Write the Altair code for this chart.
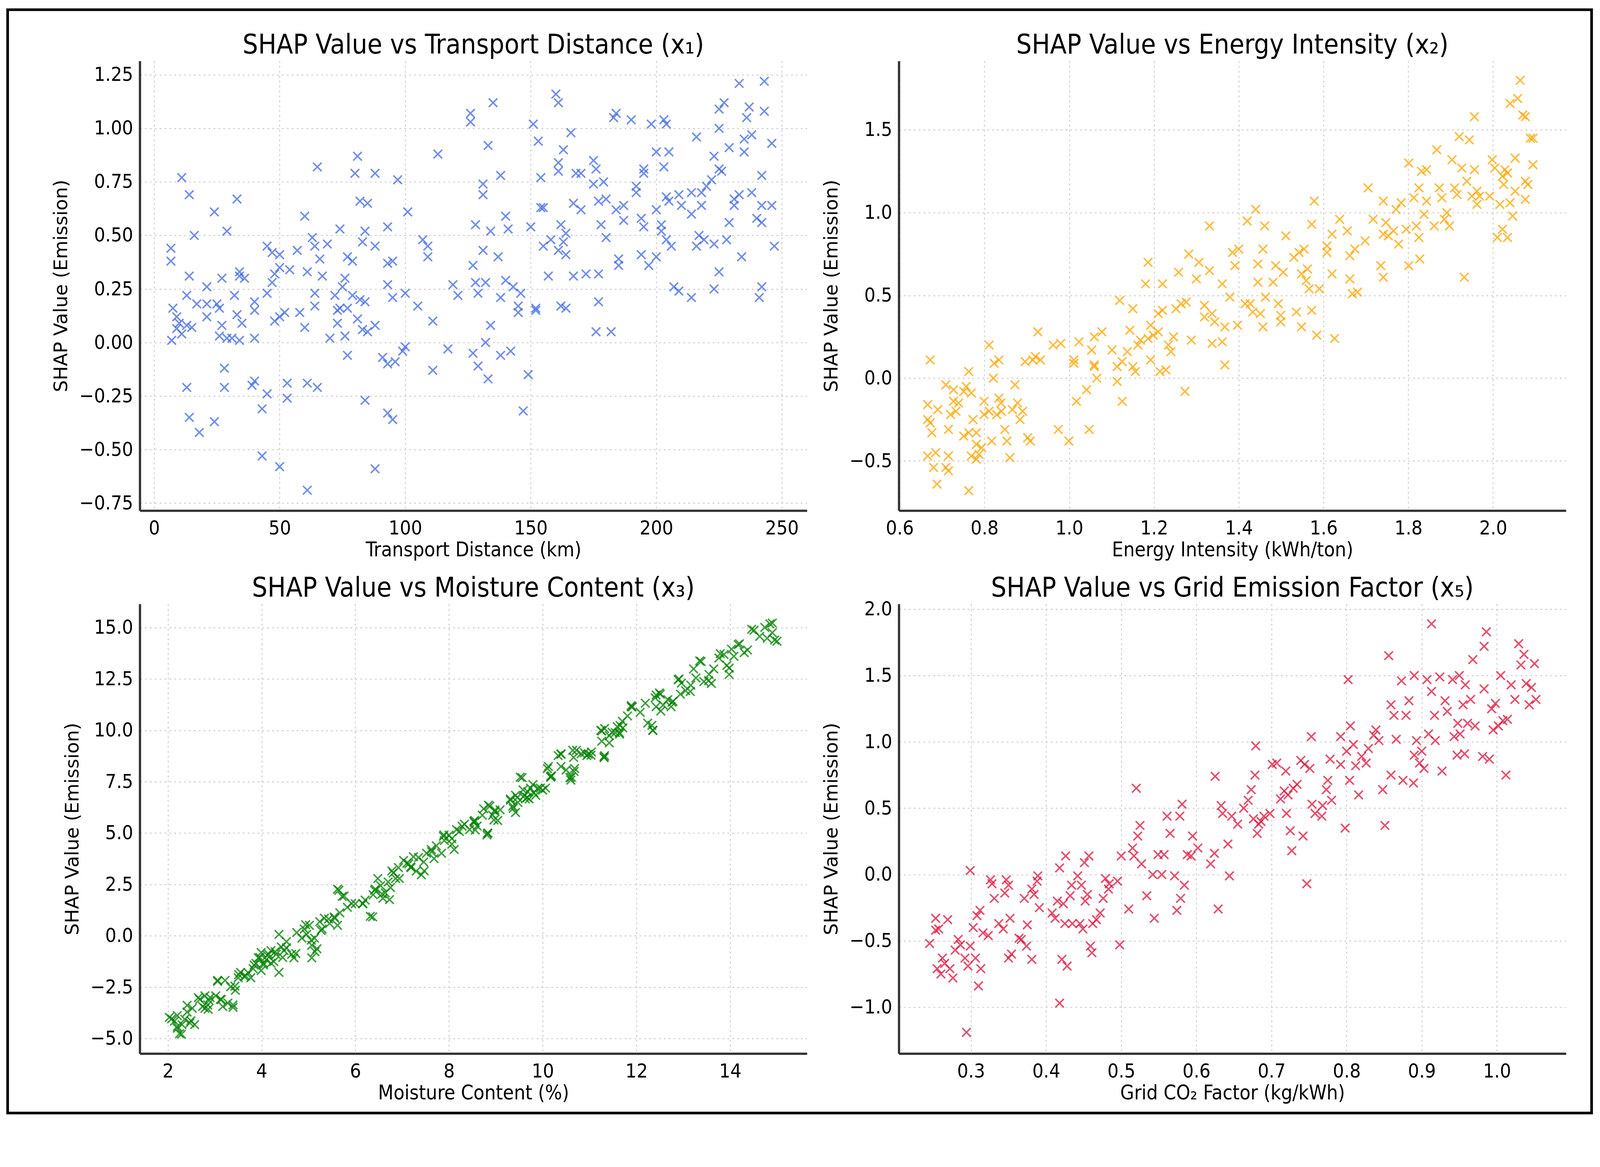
import altair as alt
import pandas as pd

FONT = "DejaVu Sans Condensed, DejaVu Sans"
X_SHAPE = "M-1,-1L1,1M-1,1L1,-1"

# (distance km, SHAP)
transport = [
    (6.7, 0.44), (6.7, 0.38), (7.5, 0.16), (7, 0.01), (9, 0.12), (10, 0.09), (9, 0.065), (11, 0.04),
    (11, 0.77), (14, 0.69), (16, 0.50), (14, 0.31), (13, 0.22), (15, 0.07), (13, 0.08), (17, 0.18),
    (13, -0.21), (14, -0.35), (18, -0.42), (21, 0.26), (21, 0.18), (21, 0.12), (24, 0.61), (24, -0.37),
    (25, 0.18), (26, 0.16), (27, 0.30), (27, 0.08), (26, 0.03), (29, 0.52), (28, -0.12), (28, -0.21),
    (29, 0.02), (31, 0.02), (32, 0.22), (33, 0.67), (33, 0.13), (34, 0.33), (34, 0.31), (36, 0.30),
    (35, 0.09), (34, 0.01), (40, 0.19), (40, 0.15), (40, 0.02), (40, -0.18), (39, -0.20), (43, -0.31),
    (43, -0.53), (45, 0.45), (47, 0.42), (45, -0.24), (45, 0.23), (47, 0.28), (48, 0.32), (50, 0.35),
    (50, 0.41), (48, 0.10), (50, 0.12), (52, 0.14), (54, 0.34), (50, -0.58), (53, -0.19), (53, -0.26),
    (57, 0.43), (58, 0.14), (60, 0.07), (60, 0.59), (61, 0.33), (61, -0.19), (61, -0.69), (63, 0.49),
    (64, 0.45), (65, 0.82), (64, 0.23), (64, 0.17), (65, -0.21), (66, 0.39), (67, 0.31), (69, 0.46),
    (72, 0.22), (74, 0.53), (73, 0.15), (73, 0.09), (70, 0.02), (75, 0.26), (76, 0.30), (76, 0.03),
    (74, 0.16), (77, 0.16), (77, -0.06), (77, 0.40), (79, 0.38), (79, 0.22), (81, 0.87), (80, 0.79),
    (82, 0.66), (85, 0.65), (84, 0.52), (83, 0.47), (82, 0.20), (84, 0.19), (81, 0.11), (83, 0.06),
    (85, 0.05), (84, -0.27), (88, 0.79), (88, 0.45), (88, 0.08), (88, -0.59), (91, -0.07), (93, 0.54),
    (93, 0.27), (93, 0.37), (95, 0.38), (95, 0.21), (93, -0.10), (93, -0.33), (95, -0.36), (96, -0.09),
    (97, 0.76), (100, -0.02), (99, -0.04), (101, 0.61), (100, 0.23), (105, 0.17), (107, 0.48), (109, 0.45),
    (109, 0.40), (111, 0.10), (111, -0.13), (113, 0.88), (117, -0.03), (119, 0.27), (121, 0.22), (126, 1.07),
    (126, 1.03), (127, -0.05), (127, 0.36), (128, 0.55), (128, 0.28), (129, 0.23), (129, -0.11), (131, 0.43),
    (131, 0.74), (131, 0.69), (132, 0.00), (132, 0.28), (133, -0.17), (133, 0.92), (134, 0.08), (135, 1.12),
    (134, 0.52), (137, 0.40), (138, 0.78), (138, -0.06), (138, 0.21), (140, 0.59), (140, 0.29), (141, 0.53),
    (142, -0.04), (143, 0.26), (145, 0.17), (145, 0.14), (146, 0.23), (147, -0.32), (149, -0.15), (150, 0.54),
    (151, 1.02), (152, 0.16), (152, 0.15), (153, 0.94), (154, 0.77), (154, 0.63), (155, 0.63), (155, 0.45),
    (157, 0.31), (158, 0.48), (160, 1.16), (161, 1.12), (161, 0.84), (161, 0.80), (161, 0.43), (162, 0.55),
    (162, 0.17), (163, 0.47), (163, 0.90), (164, 0.16), (164, 0.51), (164, 0.41), (166, 0.98), (167, 0.65),
    (167, 0.31), (168, 0.79), (170, 0.62), (170, 0.79), (172, 0.32), (175, 0.85), (175, 0.74), (176, 0.81),
    (176, 0.05), (177, 0.32), (177, 0.19), (177, 0.66), (178, 0.55), (179, 0.75), (180, 0.49), (180, 0.67),
    (182, 0.05), (183, 1.05), (184, 1.07), (184, 0.62), (185, 0.36), (185, 0.39), (187, 0.64), (187, 0.57),
    (190, 1.04), (192, 0.73), (192, 0.70), (194, 0.58), (195, 0.54), (194, 0.41), (195, 0.79), (195, 0.81),
    (197, 0.36), (198, 1.02), (200, 0.89), (200, 0.62), (200, 0.40), (202, 0.55), (202, 0.52), (203, 1.04),
    (203, 0.82), (204, 1.02), (204, 0.68), (204, 0.48), (205, 0.89), (206, 0.45), (205, 0.66), (207, 0.26),
    (209, 0.24), (209, 0.69), (210, 0.64), (214, 0.21), (214, 0.60), (214, 0.70), (216, 0.96), (216, 0.45),
    (217, 0.50), (218, 0.64), (219, 0.48), (218, 0.70), (220, 0.73), (222, 0.76), (223, 0.25), (223, 0.87),
    (223, 0.46), (225, 1.09), (225, 1.00), (225, 0.81), (225, 0.33), (226, 0.80), (227, 1.12), (228, 0.48),
    (229, 0.56), (229, 0.91), (231, 0.67), (231, 0.64), (233, 1.21), (233, 0.69), (235, 0.89), (235, 0.95),
    (234, 0.40), (236, 1.05), (237, 1.10), (238, 0.70), (238, 0.97), (240, 0.58), (241, 0.21), (242, 0.26),
    (242, 0.78), (242, 0.56), (242, 0.64), (243, 1.22), (243, 1.08), (246, 0.64), (247, 0.45), (246, 0.93),
]

# (energy intensity kWh/ton, SHAP)
energy = [
    (0.672, 0.11), (0.666, -0.16), (0.666, -0.25), (0.672, -0.27), (0.676, -0.33), (0.666, -0.47),
    (0.685, -0.45), (0.68, -0.54), (0.688, -0.64), (0.69, -0.19), (0.709, -0.04), (0.715, -0.31),
    (0.715, -0.47), (0.709, -0.54), (0.715, -0.56), (0.72, -0.22), (0.727, -0.07), (0.727, -0.14),
    (0.733, -0.20), (0.739, -0.15), (0.751, -0.08), (0.751, -0.35), (0.757, -0.05), (0.763, 0.04),
    (0.763, -0.33), (0.763, -0.68), (0.769, -0.09), (0.773, -0.25), (0.769, -0.47), (0.781, -0.33),
    (0.781, -0.40), (0.787, -0.46), (0.781, -0.49), (0.793, -0.42), (0.799, -0.14), (0.799, -0.22),
    (0.811, 0.20), (0.811, -0.20), (0.817, -0.38), (0.821, 0.00), (0.823, 0.09), (0.829, -0.22),
    (0.834, 0.11), (0.834, -0.12), (0.839, -0.15), (0.84, -0.20), (0.848, -0.31), (0.853, -0.38),
    (0.86, -0.48), (0.866, -0.19), (0.872, -0.04), (0.878, -0.15), (0.884, -0.25), (0.89, -0.20),
    (0.896, 0.10), (0.902, -0.36), (0.908, -0.38), (0.914, 0.11), (0.92, 0.13), (0.926, 0.28),
    (0.932, 0.11), (0.962, 0.20), (0.974, -0.31), (0.98, 0.21), (0.999, -0.38), (1.011, 0.11),
    (1.011, 0.09), (1.017, -0.14), (1.023, 0.22), (1.041, -0.07), (1.047, -0.31), (1.053, 0.17),
    (1.059, 0.08), (1.059, 0.07), (1.059, 0.25), (1.065, 0.00), (1.077, 0.28), (1.101, 0.17),
    (1.113, 0.07), (1.113, -0.02), (1.119, 0.47), (1.125, 0.10), (1.125, -0.14), (1.137, 0.16),
    (1.143, 0.29), (1.15, 0.42), (1.15, 0.07), (1.156, 0.04), (1.162, 0.20), (1.168, 0.23),
    (1.18, 0.57), (1.186, 0.70), (1.186, 0.24), (1.192, 0.11), (1.192, 0.32), (1.198, 0.26),
    (1.21, 0.39), (1.21, 0.28), (1.214, 0.04), (1.22, 0.57), (1.22, 0.41), (1.228, 0.05),
    (1.234, 0.20), (1.24, 0.16), (1.246, 0.25), (1.252, 0.42), (1.258, 0.64), (1.264, 0.45),
    (1.273, -0.08), (1.276, 0.46), (1.282, 0.75), (1.288, 0.23), (1.30, 0.60), (1.306, 0.70),
    (1.319, 0.44), (1.319, 0.37), (1.331, 0.65), (1.331, 0.92), (1.337, 0.39), (1.337, 0.21),
    (1.343, 0.34), (1.361, 0.57), (1.361, 0.22), (1.367, 0.08), (1.367, 0.31), (1.379, 0.49),
    (1.385, 0.76), (1.391, 0.68), (1.397, 0.32), (1.40, 0.78), (1.415, 0.45), (1.42, 0.95),
    (1.427, 0.45), (1.433, 0.40), (1.44, 1.02), (1.445, 0.69), (1.445, 0.58), (1.451, 0.39),
    (1.457, 0.78), (1.457, 0.31), (1.461, 0.92), (1.463, 0.49), (1.481, 0.58), (1.487, 0.68),
    (1.493, 0.45), (1.499, 0.38), (1.499, 0.34), (1.505, 0.64), (1.511, 0.86), (1.53, 0.73),
    (1.536, 0.40), (1.542, 0.76), (1.548, 0.63), (1.548, 0.31), (1.554, 0.78), (1.559, 0.59),
    (1.562, 0.66), (1.566, 0.54), (1.572, 0.41), (1.572, 0.93), (1.578, 1.07), (1.584, 0.26),
    (1.59, 0.54), (1.608, 0.80), (1.608, 0.76), (1.62, 0.87), (1.62, 0.63), (1.626, 0.24),
    (1.638, 0.96), (1.656, 0.89), (1.662, 0.74), (1.662, 0.60), (1.668, 0.51), (1.674, 0.78),
    (1.68, 0.52), (1.698, 0.83), (1.705, 1.15), (1.717, 0.96), (1.735, 0.68), (1.741, 1.07),
    (1.741, 0.61), (1.741, 0.87), (1.747, 0.94), (1.753, 0.86), (1.765, 0.89), (1.771, 1.02),
    (1.777, 0.81), (1.783, 1.06), (1.795, 0.90), (1.801, 1.30), (1.801, 0.68), (1.813, 1.09),
    (1.819, 0.92), (1.825, 1.15), (1.825, 0.85), (1.827, 0.72), (1.831, 1.25), (1.837, 0.99),
    (1.843, 1.26), (1.843, 1.07), (1.861, 0.92), (1.867, 1.38), (1.873, 1.15), (1.879, 1.09),
    (1.885, 0.96), (1.891, 1.00), (1.897, 0.92), (1.903, 1.32), (1.909, 1.15), (1.915, 1.11),
    (1.92, 1.46), (1.926, 1.27), (1.932, 0.61), (1.938, 1.19), (1.944, 1.44), (1.95, 1.10),
    (1.956, 1.58), (1.956, 1.26), (1.962, 1.05), (1.962, 1.13), (1.968, 1.10), (1.992, 1.10),
    (1.998, 1.32), (2.004, 1.27), (2.01, 0.85), (2.016, 1.05), (2.022, 1.22), (2.022, 0.90),
    (2.025, 1.17), (2.028, 1.26), (2.034, 0.85), (2.034, 1.24), (2.04, 1.06), (2.04, 1.66),
    (2.046, 0.98), (2.052, 1.33), (2.052, 1.13), (2.058, 1.69), (2.064, 1.80), (2.07, 1.59),
    (2.076, 1.58), (2.076, 1.19), (2.076, 1.08), (2.082, 1.17), (2.088, 1.45), (2.094, 1.45),
    (2.094, 1.29),
]

# (moisture %, SHAP)
moisture = [
    (2.03, -3.97), (2.14, -4.15), (2.2, -4.5), (2.25, -4.76), (2.2, -3.88), (2.3, -4.32), (2.36, -4.06),
    (2.41, -3.71), (2.47, -4.24), (2.52, -3.53), (2.68, -3.09), (2.74, -3.44), (2.79, -3.53), (2.85, -3.36),
    (2.9, -3.0), (2.79, -2.92), (3.12, -3.09), (3.06, -2.21), (3.17, -3.44), (3.28, -3.27), (3.39, -3.36),
    (3.34, -2.48), (3.44, -2.65), (3.5, -2.04), (3.55, -1.78), (3.66, -1.95), (3.77, -2.04), (3.82, -1.6),
    (3.88, -1.34), (3.93, -1.07), (3.99, -0.81), (3.99, -1.69), (4.04, -1.42), (4.1, -1.16), (4.15, -0.9),
    (4.2, -0.72), (4.26, -1.25), (4.31, -0.9), (4.37, 0.07), (4.37, -1.78), (4.42, -0.54), (4.48, -0.72),
    (4.53, -0.28), (4.64, -0.9), (4.69, -1.07), (4.75, 0.16), (4.86, -0.11), (4.91, 0.33), (4.96, 0.07),
    (5.02, 0.51), (5.07, -0.46), (5.07, -1.07), (5.13, -0.11), (5.18, -0.63), (5.24, 0.69), (5.29, 0.33),
    (5.34, 0.86), (5.45, 0.6), (5.56, 0.86), (5.62, 0.51), (5.62, 2.27), (5.72, 1.92), (5.67, 1.12),
    (5.83, 1.39), (6.0, 1.56), (6.16, 1.56), (6.21, 1.74), (6.32, 0.95), (6.38, 2.0), (6.43, 2.27),
    (6.48, 2.79), (6.54, 2.44), (6.59, 1.83), (6.64, 2.09), (6.7, 2.62), (6.75, 2.35), (6.81, 3.06),
    (6.86, 2.79), (6.92, 3.32), (7.03, 3.67), (7.14, 3.5), (7.19, 3.32), (7.24, 3.85), (7.3, 3.15),
    (7.41, 2.97), (7.46, 3.59), (7.52, 4.02), (7.62, 4.2), (7.68, 3.76), (7.73, 4.38), (7.84, 4.02),
    (7.9, 4.64), (8.0, 4.9), (8.06, 4.46), (8.11, 4.2), (8.22, 5.08), (8.33, 5.43), (8.44, 5.17),
    (8.55, 5.61), (8.6, 5.34), (8.71, 5.87), (8.82, 4.99), (8.87, 6.31), (8.93, 5.87), (8.98, 6.05),
    (9.04, 5.61), (9.09, 6.13), (9.31, 6.66), (9.36, 6.31), (9.42, 6.84), (9.47, 6.49), (9.52, 7.72),
    (9.58, 7.1), (9.63, 6.66), (9.68, 7.01), (9.74, 7.19), (9.79, 7.36), (9.85, 6.84), (9.95, 7.19),
    (10.06, 7.19), (10.12, 8.24), (10.17, 7.72), (10.33, 8.77), (10.39, 8.24), (10.5, 8.07), (10.61, 7.72),
    (10.66, 8.68), (10.72, 9.03), (10.82, 8.86), (10.94, 8.77), (11.04, 8.95), (11.26, 9.47), (11.32, 8.77),
    (11.32, 10.09), (11.42, 9.74), (11.48, 9.91), (11.59, 10.18), (11.64, 9.82), (11.7, 10.44), (11.81, 10.7),
    (11.91, 11.14), (12.08, 10.88), (12.19, 11.32), (12.24, 10.35), (12.35, 10.0), (12.4, 11.58), (12.51, 11.76),
    (12.57, 11.23), (12.67, 11.49), (12.78, 11.41), (12.89, 12.46), (12.94, 11.76), (13.05, 11.93), (13.16, 12.2),
    (13.22, 12.99), (13.27, 12.55), (13.38, 13.35), (13.44, 12.37), (13.55, 12.72), (13.6, 12.28), (13.65, 12.99),
    (13.76, 13.52), (13.87, 13.69), (13.93, 13.16), (13.98, 12.72), (14.03, 13.95), (14.08, 13.6), (14.2, 14.21),
    (14.3, 13.78), (14.46, 14.92), (14.63, 14.57), (14.74, 15.01), (14.85, 15.18), (14.9, 14.75), (14.95, 14.39),
    (14.79, 14.48),
    (2.08, -4.04), (2.2, -4.41), (2.29, -4.79), (2.41, -3.38), (2.49, -4.13), (2.57, -4.32), (2.65, -3.01),
    (2.86, -3.57), (2.88, -3.15), (3.02, -2.92), (3.14, -3.1), (3.39, -3.48), (3.06, -2.17), (3.22, -2.17),
    (3.43, -2.45), (3.51, -1.89), (3.63, -1.98), (3.71, -1.79), (3.84, -1.42), (3.96, -1.05), (4.04, -1.33),
    (4.12, -0.95), (4.2, -1.33), (4.29, -0.77), (4.45, -1.05), (4.53, -0.58), (4.73, -0.86), (4.94, 0.54),
    (5.06, -0.21), (5.14, -0.77), (5.27, 0.26), (5.43, 0.82), (5.55, 0.92), (5.65, 2.22), (5.76, 1.94),
    (5.92, 1.57), (6.16, 1.57), (6.37, 0.92), (6.41, 2.22), (6.57, 2.04), (6.73, 1.76), (6.78, 3.16),
    (6.94, 2.79), (7.1, 3.53), (7.18, 3.35), (7.35, 3.81), (7.47, 3.16), (7.63, 4.09), (7.88, 4.84),
    (8.16, 5.17), (8.54, 5.52), (8.83, 5.0), (8.98, 6.12), (9.37, 6.2), (9.61, 6.83), (9.71, 6.66),
    (9.9, 7.18), (10.1, 8.14), (10.19, 7.79), (10.39, 8.84), (10.58, 7.7), (10.68, 8.14), (10.97, 8.84),
    (11.31, 8.71), (11.26, 9.97), (11.55, 9.89), (11.65, 10.24), (11.89, 11.2), (12.33, 10.24), (12.42, 11.72),
    (12.52, 10.94), (12.76, 11.37), (12.91, 12.5), (13.15, 11.89), (13.35, 13.38), (13.54, 12.42), (13.79, 13.73),
    (13.98, 13.03), (14.17, 14.17), (14.37, 13.91), (14.51, 14.87), (14.9, 15.22), (15.0, 14.34),
    (7.89, 4.91), (8.06, 4.73), (8.28, 5.33), (8.53, 5.58), (8.56, 5.15), (8.81, 4.91), (8.74, 6.18),
    (8.84, 6.36), (8.96, 5.64), (9.31, 6.6), (9.42, 6.0), (9.46, 6.73), (9.56, 7.7), (9.67, 6.73),
    (9.81, 6.97), (10.0, 7.09), (10.17, 7.76), (10.39, 8.85), (10.6, 7.58), (10.67, 8.0), (10.64, 9.03),
    (10.89, 8.91), (11.03, 8.79), (11.31, 8.67), (11.24, 10.0), (11.42, 9.39), (11.64, 9.88), (11.71, 10.12),
    (11.89, 11.15), (12.35, 10.0), (12.42, 11.15), (12.49, 11.82), (12.74, 11.15), (12.96, 12.3),
]

# (grid CO2 factor kg/kWh, SHAP)
grid = [
    (0.245, -0.52), (0.253, -0.42), (0.253, -0.33), (0.255, -0.71), (0.257, -0.41), (0.26, -0.75),
    (0.262, -0.63), (0.265, -0.67), (0.269, -0.34), (0.272, -0.71), (0.276, -0.78), (0.279, -0.57),
    (0.283, -0.49), (0.286, -0.53), (0.292, -0.63), (0.294, -1.19), (0.296, -0.69), (0.299, 0.03),
    (0.299, -0.54), (0.303, -0.40), (0.306, -0.63), (0.308, -0.31), (0.31, -0.84), (0.312, -0.27),
    (0.313, -0.71), (0.316, -0.44), (0.323, -0.46), (0.326, -0.04), (0.328, -0.07), (0.331, -0.18),
    (0.337, -0.37), (0.343, -0.41), (0.345, -0.14), (0.347, -0.04), (0.35, -0.08), (0.35, -0.63),
    (0.352, -0.33), (0.354, -0.60), (0.364, -0.48), (0.367, -0.49), (0.371, -0.18), (0.374, -0.54),
    (0.375, -0.38), (0.381, -0.64), (0.381, -0.11), (0.384, -0.15), (0.388, -0.05), (0.389, -0.01),
    (0.391, -0.25), (0.408, -0.29), (0.412, -0.33), (0.415, -0.20), (0.418, 0.05), (0.418, -0.97),
    (0.421, -0.64), (0.423, -0.22), (0.425, -0.37), (0.426, 0.14), (0.428, -0.69), (0.432, -0.16),
    (0.434, -0.08), (0.435, -0.37), (0.442, -0.01), (0.445, -0.37), (0.447, -0.08), (0.449, -0.41),
    (0.451, 0.09), (0.452, -0.20), (0.455, -0.15), (0.457, 0.14), (0.459, -0.54), (0.461, -0.59),
    (0.462, -0.37), (0.467, -0.34), (0.472, -0.29), (0.476, -0.18), (0.479, -0.03), (0.483, -0.11),
    (0.484, -0.07), (0.495, -0.05), (0.498, -0.53), (0.5, 0.14), (0.51, -0.26), (0.515, 0.20),
    (0.517, 0.14), (0.52, 0.65), (0.522, 0.29), (0.525, 0.37), (0.527, 0.08), (0.534, -0.16),
    (0.542, 0.00), (0.544, -0.33), (0.549, 0.15), (0.554, 0.00), (0.557, 0.15), (0.561, 0.44),
    (0.565, 0.31), (0.571, -0.01), (0.574, -0.27), (0.578, 0.44), (0.579, -0.18), (0.581, 0.53),
    (0.584, -0.08), (0.588, 0.15), (0.593, 0.14), (0.595, 0.29), (0.602, 0.20), (0.619, 0.08),
    (0.624, 0.16), (0.625, 0.74), (0.629, -0.26), (0.633, 0.52), (0.635, 0.46), (0.642, 0.23),
    (0.644, -0.01), (0.647, 0.44), (0.655, 0.38), (0.663, 0.50), (0.669, 0.56), (0.673, 0.64),
    (0.676, 0.42), (0.678, 0.75), (0.679, 0.97), (0.681, 0.31), (0.683, 0.38), (0.686, 0.40),
    (0.69, 0.44), (0.698, 0.46), (0.701, 0.83), (0.707, 0.84), (0.712, 0.57), (0.717, 0.63),
    (0.719, 0.78), (0.72, 0.46), (0.722, 0.60), (0.725, 0.33), (0.727, 0.18), (0.729, 0.65),
    (0.734, 0.68), (0.739, 0.86), (0.742, 0.29), (0.744, 0.83), (0.747, -0.07), (0.751, 0.80),
    (0.753, 1.04), (0.754, 0.53), (0.758, 0.46), (0.767, 0.44), (0.768, 0.52), (0.773, 0.64),
    (0.775, 0.71), (0.778, 0.87), (0.78, 0.56), (0.792, 0.83), (0.792, 1.04), (0.798, 0.35),
    (0.8, 0.93), (0.802, 1.47), (0.804, 0.71), (0.805, 1.12), (0.809, 0.98), (0.812, 0.82),
    (0.816, 0.60), (0.82, 0.89), (0.826, 0.84), (0.829, 0.95), (0.836, 1.05), (0.839, 1.09),
    (0.843, 1.01), (0.848, 0.64), (0.851, 0.37), (0.856, 1.65), (0.859, 1.28), (0.859, 0.75),
    (0.863, 1.20), (0.866, 1.02), (0.873, 1.46), (0.875, 0.71), (0.879, 1.20), (0.883, 1.31),
    (0.889, 0.69), (0.89, 1.50), (0.89, 0.90), (0.893, 1.01), (0.897, 0.84), (0.9, 0.93),
    (0.903, 0.80), (0.907, 1.47), (0.909, 1.06), (0.913, 1.89), (0.913, 1.38), (0.917, 1.20),
    (0.918, 1.01), (0.924, 1.49), (0.927, 0.78), (0.931, 1.31), (0.934, 1.23), (0.941, 1.47),
    (0.943, 1.04), (0.947, 0.90), (0.948, 1.14), (0.95, 1.50), (0.951, 1.06), (0.955, 1.28),
    (0.957, 0.91), (0.958, 1.43), (0.961, 1.14), (0.965, 1.32), (0.968, 1.62), (0.971, 1.12),
    (0.981, 0.89), (0.983, 1.40), (0.983, 1.72), (0.986, 1.83), (0.99, 0.87), (0.993, 1.25),
    (0.995, 1.09), (0.998, 1.29), (1.002, 1.12), (1.005, 1.50), (1.008, 1.16), (1.012, 0.75),
    (1.014, 1.17), (1.019, 1.43), (1.024, 1.32), (1.029, 1.74), (1.032, 1.58), (1.036, 1.66),
    (1.039, 1.44), (1.043, 1.28), (1.046, 1.41), (1.05, 1.59), (1.052, 1.32),
]

W, H = 1772, 1194


def panel(points, color, title, xtitle, xdom, xticks, xfmt, ydom, yticks, yfmt, frame=False):
    df = pd.DataFrame(points, columns=["x", "y"])
    dots = alt.Chart(df).mark_point(
        shape=X_SHAPE, filled=False, size=520, strokeWidth=4, color=color, opacity=0.75
    ).encode(
        x=alt.X("x:Q", title=xtitle,
                scale=alt.Scale(domain=xdom, nice=False, zero=False),
                axis=alt.Axis(values=xticks, format=xfmt)),
        y=alt.Y("y:Q", title="SHAP Value (Emission)",
                scale=alt.Scale(domain=ydom, nice=False, zero=False),
                axis=alt.Axis(values=yticks, format=yfmt)),
    )
    # panel title drawn as text so the outer frame does not push it away
    head = alt.Chart(pd.DataFrame({"t": [title]})).mark_text(
        font=FONT, fontSize=72, color="black", align="center", baseline="alphabetic"
    ).encode(text="t:N", x=alt.value(W / 2), y=alt.value(-20))
    layers = [dots, head]
    if frame:
        box = alt.Chart(pd.DataFrame({"f": [0]})).mark_rect(
            filled=False, stroke="black", strokeWidth=7
        ).encode(x=alt.value(-351), x2=alt.value(3856), y=alt.value(-136), y2=alt.value(2794))
        layers.append(box)
    return alt.layer(*layers).properties(width=W, height=H)


p1 = panel(transport, "royalblue", "SHAP Value vs Transport Distance (x₁)", "Transport Distance (km)",
           [-5.7, 260], [0, 50, 100, 150, 200, 250], "d",
           [-0.785, 1.315], [-0.75, -0.5, -0.25, 0, 0.25, 0.5, 0.75, 1.0, 1.25], ".2f", frame=True)
p2 = panel(energy, "orange", "SHAP Value vs Energy Intensity (x₂)", "Energy Intensity (kWh/ton)",
           [0.598, 2.172], [0.6, 0.8, 1.0, 1.2, 1.4, 1.6, 1.8, 2.0], ".1f",
           [-0.8, 1.917], [-0.5, 0, 0.5, 1.0, 1.5], ".1f")
p3 = panel(moisture, "green", "SHAP Value vs Moisture Content (x₃)", "Moisture Content (%)",
           [1.4, 15.64], [2, 4, 6, 8, 10, 12, 14], "d",
           [-5.73, 16.15], [-5, -2.5, 0, 2.5, 5, 7.5, 10, 12.5, 15], ".1f")
p4 = panel(grid, "crimson", "SHAP Value vs Grid Emission Factor (x₅)", "Grid CO₂ Factor (kg/kWh)",
           [0.204, 1.092], [0.3, 0.4, 0.5, 0.6, 0.7, 0.8, 0.9, 1.0], ".1f",
           [-1.35, 2.04], [-1.0, -0.5, 0, 0.5, 1.0, 1.5, 2.0], ".1f")

chart = alt.concat(
    p1, p2, p3, p4, columns=2, spacing={"row": 248, "column": 244}, bounds="flush"
).properties(
    padding={"left": 8, "top": -41, "right": 10, "bottom": 10}
).configure_view(
    strokeWidth=0
).configure_axis(
    labelFont=FONT, labelFontSize=52, labelColor="black", labelPadding=18,
    labelFlush=False, labelOverlap=False,
    titleFont=FONT, titleFontSize=53, titleFontWeight="normal", titleColor="black",
    domainColor="#333333", domainWidth=6, ticks=False,
    gridColor="#cccccc", gridDash=[5, 8], gridWidth=2.5,
).configure_axisX(
    titlePadding=6, labelPadding=22
).configure_axisY(
    titleFont="DejaVu Sans", titleFontSize=50, titlePadding=22
)

chart.save("out.html", embed_options={"renderer": "svg", "actions": False})
